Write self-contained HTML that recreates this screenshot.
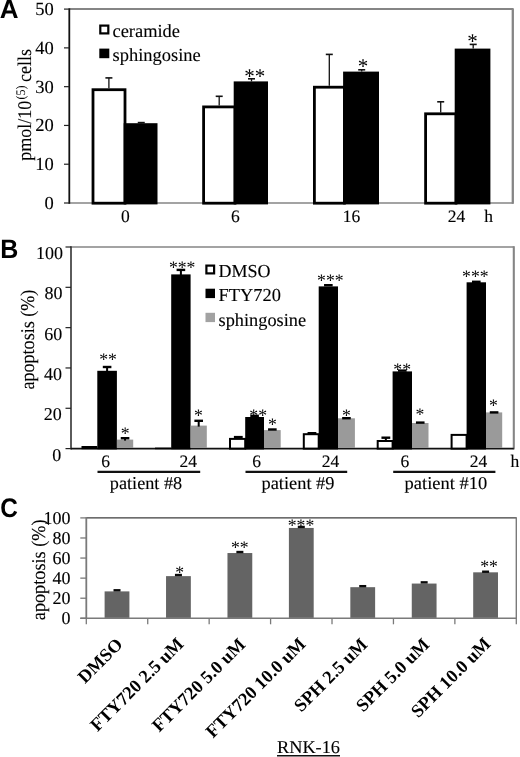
<!DOCTYPE html>
<html><head><meta charset="utf-8"><title>Figure</title>
<style>html,body{margin:0;padding:0;background:#fff;}body{width:520px;height:757px;overflow:hidden;font-family:"Liberation Serif",serif;}svg{display:block;will-change:transform;}text{text-rendering:geometricPrecision;}</style>
</head><body>
<svg width="520" height="757" viewBox="0 0 520 757">
<rect x="0" y="0" width="520" height="757" fill="#ffffff"/>
<line x1="69.3" y1="9.1" x2="513" y2="9.1" stroke="#858585" stroke-width="2.0"/>
<line x1="512.8" y1="8.299999999999999" x2="512.8" y2="203.8" stroke="#858585" stroke-width="2.3"/>
<line x1="69.3" y1="203.0" x2="513" y2="203.0" stroke="#858585" stroke-width="1.6"/>
<line x1="69.3" y1="8.299999999999999" x2="69.3" y2="203.8" stroke="#111" stroke-width="1.8"/>
<line x1="64.0" y1="203.0" x2="69.3" y2="203.0" stroke="#222" stroke-width="1.2"/>
<text x="53.7" y="208.9" font-size="18.5" text-anchor="end" font-weight="normal" font-family='"Liberation Serif", serif' fill="#000" stroke="#000" stroke-width="0.12">0</text>
<line x1="64.0" y1="164.22" x2="69.3" y2="164.22" stroke="#222" stroke-width="1.2"/>
<text x="53.7" y="170.12" font-size="18.5" text-anchor="end" font-weight="normal" font-family='"Liberation Serif", serif' fill="#000" stroke="#000" stroke-width="0.12">10</text>
<line x1="64.0" y1="125.44" x2="69.3" y2="125.44" stroke="#222" stroke-width="1.2"/>
<text x="53.7" y="131.34" font-size="18.5" text-anchor="end" font-weight="normal" font-family='"Liberation Serif", serif' fill="#000" stroke="#000" stroke-width="0.12">20</text>
<line x1="64.0" y1="86.66" x2="69.3" y2="86.66" stroke="#222" stroke-width="1.2"/>
<text x="53.7" y="92.56" font-size="18.5" text-anchor="end" font-weight="normal" font-family='"Liberation Serif", serif' fill="#000" stroke="#000" stroke-width="0.12">30</text>
<line x1="64.0" y1="47.879999999999995" x2="69.3" y2="47.879999999999995" stroke="#222" stroke-width="1.2"/>
<text x="53.7" y="53.78" font-size="18.5" text-anchor="end" font-weight="normal" font-family='"Liberation Serif", serif' fill="#000" stroke="#000" stroke-width="0.12">40</text>
<line x1="64.0" y1="9.099999999999994" x2="69.3" y2="9.099999999999994" stroke="#222" stroke-width="1.2"/>
<text x="53.7" y="15.0" font-size="18.5" text-anchor="end" font-weight="normal" font-family='"Liberation Serif", serif' fill="#000" stroke="#000" stroke-width="0.12">50</text>
<line x1="108.89999999999999" y1="77.9" x2="108.89999999999999" y2="88.3" stroke="#111" stroke-width="1.3"/>
<line x1="105.39999999999999" y1="77.9" x2="112.39999999999999" y2="77.9" stroke="#111" stroke-width="1.6"/>
<line x1="141.25" y1="122.6" x2="141.25" y2="123.2" stroke="#111" stroke-width="1.3"/>
<line x1="137.75" y1="122.6" x2="144.75" y2="122.6" stroke="#111" stroke-width="1.6"/>
<rect x="93.0" y="89.7" width="32.00000000000001" height="113.5" fill="#fff" stroke="#000" stroke-width="2.8"/>
<rect x="123.7" y="123.2" width="33.8" height="81.2" fill="#000"/>
<line x1="219.2" y1="96.3" x2="219.2" y2="105.5" stroke="#111" stroke-width="1.3"/>
<line x1="215.7" y1="96.3" x2="222.7" y2="96.3" stroke="#111" stroke-width="1.6"/>
<line x1="251.5" y1="78.8" x2="251.5" y2="81.4" stroke="#111" stroke-width="1.3"/>
<line x1="248.0" y1="78.8" x2="255.0" y2="78.8" stroke="#111" stroke-width="1.6"/>
<rect x="203.6" y="106.9" width="31.400000000000013" height="96.3" fill="#fff" stroke="#000" stroke-width="2.8"/>
<rect x="233.7" y="81.4" width="34.3" height="123.0" fill="#000"/>
<line x1="329.3" y1="54.4" x2="329.3" y2="85.8" stroke="#111" stroke-width="1.3"/>
<line x1="325.8" y1="54.4" x2="332.8" y2="54.4" stroke="#111" stroke-width="1.6"/>
<line x1="361.7" y1="69.8" x2="361.7" y2="71.6" stroke="#111" stroke-width="1.3"/>
<line x1="358.2" y1="69.8" x2="365.2" y2="69.8" stroke="#111" stroke-width="1.6"/>
<rect x="314.4" y="87.2" width="29.99999999999998" height="116.0" fill="#fff" stroke="#000" stroke-width="2.8"/>
<rect x="343.09999999999997" y="71.6" width="35.90000000000002" height="132.8" fill="#000"/>
<line x1="440.70000000000005" y1="101.8" x2="440.70000000000005" y2="112.4" stroke="#111" stroke-width="1.3"/>
<line x1="437.20000000000005" y1="101.8" x2="444.20000000000005" y2="101.8" stroke="#111" stroke-width="1.6"/>
<line x1="473.2" y1="44.4" x2="473.2" y2="48.6" stroke="#111" stroke-width="1.3"/>
<line x1="469.7" y1="44.4" x2="476.7" y2="44.4" stroke="#111" stroke-width="1.6"/>
<rect x="425.59999999999997" y="113.80000000000001" width="30.400000000000013" height="89.39999999999999" fill="#fff" stroke="#000" stroke-width="2.8"/>
<rect x="454.7" y="48.6" width="35.699999999999974" height="155.8" fill="#000"/>
<text x="254.8" y="82.95" font-size="21" text-anchor="middle" font-weight="normal" font-family='"Liberation Serif", serif' fill="#000" >**</text>
<text x="362.9" y="73.36" font-size="21" text-anchor="middle" font-weight="normal" font-family='"Liberation Serif", serif' fill="#000" >*</text>
<text x="472.6" y="48.36" font-size="21" text-anchor="middle" font-weight="normal" font-family='"Liberation Serif", serif' fill="#000" >*</text>
<text x="125.3" y="222.4" font-size="17.5" text-anchor="middle" font-weight="normal" font-family='"Liberation Serif", serif' fill="#000" stroke="#000" stroke-width="0.12">0</text>
<text x="235.4" y="222.4" font-size="17.5" text-anchor="middle" font-weight="normal" font-family='"Liberation Serif", serif' fill="#000" stroke="#000" stroke-width="0.12">6</text>
<text x="351.4" y="222.4" font-size="17.5" text-anchor="middle" font-weight="normal" font-family='"Liberation Serif", serif' fill="#000" stroke="#000" stroke-width="0.12">16</text>
<text x="456.4" y="222.4" font-size="17.5" text-anchor="middle" font-weight="normal" font-family='"Liberation Serif", serif' fill="#000" stroke="#000" stroke-width="0.12">24</text>
<text x="484.2" y="222.4" font-size="17.5" text-anchor="start" font-weight="normal" font-family='"Liberation Serif", serif' fill="#000" stroke="#000" stroke-width="0.12">h</text>
<rect x="100.3" y="25.6" width="8.0" height="7.8" fill="#fff" stroke="#000" stroke-width="2.2"/>
<rect x="99.3" y="48.6" width="10.0" height="9.6" fill="#000"/>
<text x="112.5" y="37.0" font-size="18.5" text-anchor="start" font-weight="normal" font-family='"Liberation Serif", serif' fill="#000" textLength="67.5" lengthAdjust="spacingAndGlyphs" stroke="#000" stroke-width="0.12">ceramide</text>
<text x="112.5" y="61.3" font-size="18.5" text-anchor="start" font-weight="normal" font-family='"Liberation Serif", serif' fill="#000" textLength="88.3" lengthAdjust="spacingAndGlyphs" stroke="#000" stroke-width="0.12">sphingosine</text>
<text transform="translate(-0.2,17.8) scale(1,1)" font-size="26" font-weight="bold" font-family='"Liberation Sans", sans-serif' fill="#000">A</text>
<g transform="translate(30.9,160.8) rotate(-90) scale(1,1.1)" font-family='"Liberation Serif", serif' font-size="17.6" fill="#000" stroke="#000" stroke-width="0.1"><text x="0" y="0" textLength="60" lengthAdjust="spacingAndGlyphs">pmol/10</text><text x="61.3" y="-5.2" font-size="12" stroke="none" textLength="14" lengthAdjust="spacingAndGlyphs">(5)</text><text x="78.8" y="0" textLength="33" lengthAdjust="spacingAndGlyphs">cells</text></g>
<line x1="71.0" y1="247.0" x2="513.8" y2="247.0" stroke="#858585" stroke-width="1.6"/>
<line x1="513.8" y1="246.2" x2="513.8" y2="449.40000000000003" stroke="#858585" stroke-width="2.1"/>
<line x1="71.0" y1="246.2" x2="71.0" y2="449.40000000000003" stroke="#333" stroke-width="1.6"/>
<line x1="71.0" y1="448.6" x2="513.8" y2="448.6" stroke="#111" stroke-width="1.7"/>
<line x1="65.5" y1="448.6" x2="71.0" y2="448.6" stroke="#222" stroke-width="1.2"/>
<text x="61.3" y="460.5" font-size="18" text-anchor="end" font-weight="normal" font-family='"Liberation Serif", serif' fill="#000" stroke="#000" stroke-width="0.12">0</text>
<line x1="65.5" y1="408.28000000000003" x2="71.0" y2="408.28000000000003" stroke="#222" stroke-width="1.2"/>
<text x="61.8" y="420.18" font-size="18" text-anchor="end" font-weight="normal" font-family='"Liberation Serif", serif' fill="#000" stroke="#000" stroke-width="0.12">20</text>
<line x1="65.5" y1="367.96000000000004" x2="71.0" y2="367.96000000000004" stroke="#222" stroke-width="1.2"/>
<text x="62.0" y="379.86" font-size="18" text-anchor="end" font-weight="normal" font-family='"Liberation Serif", serif' fill="#000" stroke="#000" stroke-width="0.12">40</text>
<line x1="65.5" y1="327.64" x2="71.0" y2="327.64" stroke="#222" stroke-width="1.2"/>
<text x="62.3" y="339.54" font-size="18" text-anchor="end" font-weight="normal" font-family='"Liberation Serif", serif' fill="#000" stroke="#000" stroke-width="0.12">60</text>
<line x1="65.5" y1="287.32" x2="71.0" y2="287.32" stroke="#222" stroke-width="1.2"/>
<text x="62.5" y="299.22" font-size="18" text-anchor="end" font-weight="normal" font-family='"Liberation Serif", serif' fill="#000" stroke="#000" stroke-width="0.12">80</text>
<line x1="65.5" y1="247.0" x2="71.0" y2="247.0" stroke="#222" stroke-width="1.2"/>
<text x="62.9" y="258.9" font-size="18" text-anchor="end" font-weight="normal" font-family='"Liberation Serif", serif' fill="#000" stroke="#000" stroke-width="0.12">100</text>
<rect x="81.5" y="446.0" width="15.799999999999997" height="3.200000000000023" fill="#000"/>
<rect x="97.3" y="370.8" width="19.60000000000001" height="78.60000000000001" fill="#000"/>
<rect x="116.9" y="439.6" width="16.299999999999983" height="8.4" fill="#9a9a9a"/>
<rect x="106.1" y="366.8" width="2.0" height="5.0" fill="#000"/>
<rect x="102.8" y="365.8" width="8.6" height="2.4" fill="#000"/>
<rect x="124.05" y="438.0" width="2.0" height="2.6" fill="#000"/>
<rect x="120.75" y="437.0" width="8.6" height="2.4" fill="#000"/>
<rect x="155.0" y="447.6" width="16.19999999999999" height="1.6" fill="#000"/>
<rect x="171.2" y="274.4" width="19.400000000000006" height="175.00000000000006" fill="#000"/>
<rect x="190.6" y="425.6" width="16.200000000000017" height="22.4" fill="#9a9a9a"/>
<rect x="179.9" y="269.7" width="2.0" height="5.7" fill="#000"/>
<rect x="176.6" y="268.7" width="8.6" height="2.4" fill="#000"/>
<rect x="197.7" y="420.6" width="2.0" height="6.0" fill="#000"/>
<rect x="194.4" y="419.6" width="8.6" height="2.4" fill="#000"/>
<rect x="230.0" y="438.9" width="15.199999999999989" height="9.700000000000045" fill="#fff" stroke="#000" stroke-width="2.0"/>
<rect x="245.2" y="417.0" width="18.80000000000001" height="32.40000000000002" fill="#000"/>
<rect x="264.0" y="430.1" width="16.69999999999999" height="17.9" fill="#9a9a9a"/>
<rect x="233.9" y="435.9" width="8.8" height="2.4" fill="#000"/>
<rect x="250.3" y="414.6" width="8.6" height="2.4" fill="#000"/>
<rect x="268.05" y="428.3" width="8.6" height="2.4" fill="#000"/>
<rect x="303.8" y="434.2" width="14.899999999999977" height="14.400000000000034" fill="#fff" stroke="#000" stroke-width="2.0"/>
<rect x="318.7" y="286.4" width="19.30000000000001" height="163.00000000000006" fill="#000"/>
<rect x="338.0" y="418.3" width="16.899999999999977" height="29.70000000000001" fill="#9a9a9a"/>
<rect x="307.55" y="432.0" width="8.8" height="2.4" fill="#000"/>
<rect x="324.05" y="284.0" width="8.6" height="2.4" fill="#000"/>
<rect x="342.15" y="417.0" width="8.6" height="2.4" fill="#000"/>
<rect x="377.7" y="441.0" width="14.900000000000034" height="7.600000000000023" fill="#fff" stroke="#000" stroke-width="2.0"/>
<rect x="392.6" y="371.4" width="19.399999999999977" height="78.00000000000004" fill="#000"/>
<rect x="412.0" y="423.0" width="16.5" height="25.00000000000002" fill="#9a9a9a"/>
<rect x="384.85" y="437.5" width="2.0" height="3.5" fill="#000"/>
<rect x="381.45" y="436.5" width="8.8" height="2.4" fill="#000"/>
<rect x="398.0" y="369.4" width="8.6" height="2.4" fill="#000"/>
<rect x="415.95" y="421.4" width="8.6" height="2.4" fill="#000"/>
<rect x="451.6" y="434.9" width="15.0" height="13.700000000000045" fill="#fff" stroke="#000" stroke-width="2.0"/>
<rect x="466.6" y="282.3" width="19.399999999999977" height="167.10000000000002" fill="#000"/>
<rect x="486.0" y="412.4" width="16.19999999999999" height="35.600000000000044" fill="#9a9a9a"/>
<rect x="472.0" y="280.6" width="8.6" height="2.4" fill="#000"/>
<rect x="489.8" y="411.2" width="8.6" height="2.4" fill="#000"/>
<text x="108.0" y="365.39" font-size="17.7" text-anchor="middle" font-weight="normal" font-family='"Liberation Serif", serif' fill="#000" >**</text>
<text x="125.1" y="438.59" font-size="17.7" text-anchor="middle" font-weight="normal" font-family='"Liberation Serif", serif' fill="#000" >*</text>
<text x="182.2" y="272.89" font-size="17.7" text-anchor="middle" font-weight="normal" font-family='"Liberation Serif", serif' fill="#000" >***</text>
<text x="198.4" y="420.79" font-size="17.7" text-anchor="middle" font-weight="normal" font-family='"Liberation Serif", serif' fill="#000" >*</text>
<text x="258.2" y="420.59" font-size="17.7" text-anchor="middle" font-weight="normal" font-family='"Liberation Serif", serif' fill="#000" >**</text>
<text x="272.4" y="429.79" font-size="17.7" text-anchor="middle" font-weight="normal" font-family='"Liberation Serif", serif' fill="#000" >*</text>
<text x="330.3" y="286.09" font-size="17.7" text-anchor="middle" font-weight="normal" font-family='"Liberation Serif", serif' fill="#000" >***</text>
<text x="346.3" y="420.79" font-size="17.7" text-anchor="middle" font-weight="normal" font-family='"Liberation Serif", serif' fill="#000" >*</text>
<text x="402.2" y="374.89" font-size="17.7" text-anchor="middle" font-weight="normal" font-family='"Liberation Serif", serif' fill="#000" >**</text>
<text x="419.9" y="420.49" font-size="17.7" text-anchor="middle" font-weight="normal" font-family='"Liberation Serif", serif' fill="#000" >*</text>
<text x="475.3" y="281.89" font-size="17.7" text-anchor="middle" font-weight="normal" font-family='"Liberation Serif", serif' fill="#000" >***</text>
<text x="493.5" y="411.49" font-size="17.7" text-anchor="middle" font-weight="normal" font-family='"Liberation Serif", serif' fill="#000" >*</text>
<text x="105.5" y="467.4" font-size="17.5" text-anchor="middle" font-weight="normal" font-family='"Liberation Serif", serif' fill="#000" stroke="#000" stroke-width="0.12">6</text>
<text x="188.2" y="467.4" font-size="17.5" text-anchor="middle" font-weight="normal" font-family='"Liberation Serif", serif' fill="#000" stroke="#000" stroke-width="0.12">24</text>
<text x="256.7" y="467.4" font-size="17.5" text-anchor="middle" font-weight="normal" font-family='"Liberation Serif", serif' fill="#000" stroke="#000" stroke-width="0.12">6</text>
<text x="330.5" y="467.4" font-size="17.5" text-anchor="middle" font-weight="normal" font-family='"Liberation Serif", serif' fill="#000" stroke="#000" stroke-width="0.12">24</text>
<text x="404.8" y="467.4" font-size="17.5" text-anchor="middle" font-weight="normal" font-family='"Liberation Serif", serif' fill="#000" stroke="#000" stroke-width="0.12">6</text>
<text x="478.4" y="467.4" font-size="17.5" text-anchor="middle" font-weight="normal" font-family='"Liberation Serif", serif' fill="#000" stroke="#000" stroke-width="0.12">24</text>
<text x="510.6" y="467.4" font-size="17.5" text-anchor="start" font-weight="normal" font-family='"Liberation Serif", serif' fill="#000" stroke="#000" stroke-width="0.12">h</text>
<line x1="97.5" y1="471.9" x2="200.2" y2="471.9" stroke="#111" stroke-width="2.3"/>
<line x1="245.5" y1="471.9" x2="347.2" y2="471.9" stroke="#111" stroke-width="2.3"/>
<line x1="393.2" y1="471.9" x2="495.4" y2="471.9" stroke="#111" stroke-width="2.3"/>
<text x="109.8" y="489.1" font-size="18" text-anchor="start" font-weight="normal" font-family='"Liberation Serif", serif' fill="#000" textLength="72.4" lengthAdjust="spacingAndGlyphs" stroke="#000" stroke-width="0.12">patient #8</text>
<text x="261.5" y="489.1" font-size="18" text-anchor="start" font-weight="normal" font-family='"Liberation Serif", serif' fill="#000" textLength="73" lengthAdjust="spacingAndGlyphs" stroke="#000" stroke-width="0.12">patient #9</text>
<text x="404.6" y="489.1" font-size="18" text-anchor="start" font-weight="normal" font-family='"Liberation Serif", serif' fill="#000" textLength="82.6" lengthAdjust="spacingAndGlyphs" stroke="#000" stroke-width="0.12">patient #10</text>
<rect x="206.4" y="265.6" width="7.7" height="7.8" fill="#fff" stroke="#000" stroke-width="2.2"/>
<rect x="205.5" y="288.7" width="9.5" height="9.4" fill="#000"/>
<rect x="205.5" y="312.8" width="9.5" height="9.3" fill="#a2a2a2"/>
<text x="218.6" y="277.2" font-size="18.3" text-anchor="start" font-weight="normal" font-family='"Liberation Serif", serif' fill="#000" textLength="52" lengthAdjust="spacingAndGlyphs" stroke="#000" stroke-width="0.12">DMSO</text>
<text x="218.6" y="301.0" font-size="18.3" text-anchor="start" font-weight="normal" font-family='"Liberation Serif", serif' fill="#000" textLength="62.4" lengthAdjust="spacingAndGlyphs" stroke="#000" stroke-width="0.12">FTY720</text>
<text x="218.6" y="325.8" font-size="18.3" text-anchor="start" font-weight="normal" font-family='"Liberation Serif", serif' fill="#000" textLength="87.5" lengthAdjust="spacingAndGlyphs" stroke="#000" stroke-width="0.12">sphingosine</text>
<text transform="translate(0.2,258.1) scale(0.94,1)" font-size="26.6" font-weight="bold" font-family='"Liberation Sans", sans-serif' fill="#000">B</text>
<g transform="translate(33.8,389.6) rotate(-90) scale(1,1.09)" font-family='"Liberation Serif", serif' font-size="18" fill="#000" stroke="#000" stroke-width="0.1"><text x="0" y="0" textLength="100" lengthAdjust="spacingAndGlyphs">apoptosis (%)</text></g>
<line x1="86.3" y1="517.9" x2="516.3" y2="517.9" stroke="#3c3c3c" stroke-width="1.4"/>
<line x1="516.3" y1="517.1999999999999" x2="516.3" y2="619.0" stroke="#7a7a7a" stroke-width="1.4"/>
<line x1="86.3" y1="517.1999999999999" x2="86.3" y2="619.0" stroke="#7a7a7a" stroke-width="1.8"/>
<line x1="80.3" y1="618.3" x2="516.3" y2="618.3" stroke="#7a7a7a" stroke-width="1.4"/>
<line x1="80.3" y1="618.3" x2="86.3" y2="618.3" stroke="#7a7a7a" stroke-width="1.3"/>
<text x="70.4" y="624.1" font-size="18" text-anchor="end" font-weight="normal" font-family='"Liberation Serif", serif' fill="#000" stroke="#000" stroke-width="0.12">0</text>
<line x1="80.3" y1="598.2199999999999" x2="86.3" y2="598.2199999999999" stroke="#7a7a7a" stroke-width="1.3"/>
<text x="70.4" y="604.02" font-size="18" text-anchor="end" font-weight="normal" font-family='"Liberation Serif", serif' fill="#000" stroke="#000" stroke-width="0.12">20</text>
<line x1="80.3" y1="578.14" x2="86.3" y2="578.14" stroke="#7a7a7a" stroke-width="1.3"/>
<text x="70.4" y="583.94" font-size="18" text-anchor="end" font-weight="normal" font-family='"Liberation Serif", serif' fill="#000" stroke="#000" stroke-width="0.12">40</text>
<line x1="80.3" y1="558.06" x2="86.3" y2="558.06" stroke="#7a7a7a" stroke-width="1.3"/>
<text x="70.4" y="563.86" font-size="18" text-anchor="end" font-weight="normal" font-family='"Liberation Serif", serif' fill="#000" stroke="#000" stroke-width="0.12">60</text>
<line x1="80.3" y1="537.98" x2="86.3" y2="537.98" stroke="#7a7a7a" stroke-width="1.3"/>
<text x="70.4" y="543.78" font-size="18" text-anchor="end" font-weight="normal" font-family='"Liberation Serif", serif' fill="#000" stroke="#000" stroke-width="0.12">80</text>
<line x1="80.3" y1="517.9" x2="86.3" y2="517.9" stroke="#7a7a7a" stroke-width="1.3"/>
<text x="70.4" y="523.7" font-size="18" text-anchor="end" font-weight="normal" font-family='"Liberation Serif", serif' fill="#000" stroke="#000" stroke-width="0.12">100</text>
<line x1="86.3" y1="618.3" x2="86.3" y2="624.3" stroke="#7a7a7a" stroke-width="1.3"/>
<line x1="147.72857142857143" y1="618.3" x2="147.72857142857143" y2="624.3" stroke="#7a7a7a" stroke-width="1.3"/>
<line x1="209.15714285714284" y1="618.3" x2="209.15714285714284" y2="624.3" stroke="#7a7a7a" stroke-width="1.3"/>
<line x1="270.5857142857143" y1="618.3" x2="270.5857142857143" y2="624.3" stroke="#7a7a7a" stroke-width="1.3"/>
<line x1="332.0142857142857" y1="618.3" x2="332.0142857142857" y2="624.3" stroke="#7a7a7a" stroke-width="1.3"/>
<line x1="393.4428571428571" y1="618.3" x2="393.4428571428571" y2="624.3" stroke="#7a7a7a" stroke-width="1.3"/>
<line x1="454.87142857142857" y1="618.3" x2="454.87142857142857" y2="624.3" stroke="#7a7a7a" stroke-width="1.3"/>
<line x1="516.3" y1="618.3" x2="516.3" y2="624.3" stroke="#7a7a7a" stroke-width="1.3"/>
<rect x="104.61" y="591.39" width="24.8" height="26.41" fill="#646464"/>
<rect x="113.51" y="589.09" width="7.0" height="2.4" fill="#0a0a0a"/>
<rect x="166.04" y="576.13" width="24.8" height="41.67" fill="#646464"/>
<rect x="174.94" y="573.83" width="7.0" height="2.4" fill="#0a0a0a"/>
<rect x="227.47" y="553.04" width="24.8" height="64.76" fill="#646464"/>
<rect x="236.37" y="550.84" width="7.0" height="2.4" fill="#0a0a0a"/>
<rect x="288.9" y="527.94" width="24.8" height="89.86" fill="#646464"/>
<rect x="297.8" y="525.74" width="7.0" height="2.4" fill="#0a0a0a"/>
<rect x="350.33" y="587.18" width="24.8" height="30.62" fill="#646464"/>
<rect x="359.23" y="584.98" width="7.0" height="2.4" fill="#0a0a0a"/>
<rect x="411.76" y="583.56" width="24.8" height="34.24" fill="#646464"/>
<rect x="420.66" y="581.16" width="7.0" height="2.4" fill="#0a0a0a"/>
<rect x="473.19" y="572.32" width="24.8" height="45.48" fill="#646464"/>
<rect x="482.09" y="570.52" width="7.0" height="2.4" fill="#0a0a0a"/>
<text x="179.6" y="577.59" font-size="17.7" text-anchor="middle" font-weight="normal" font-family='"Liberation Serif", serif' fill="#000" >*</text>
<text x="239.8" y="553.19" font-size="17.7" text-anchor="middle" font-weight="normal" font-family='"Liberation Serif", serif' fill="#000" >**</text>
<text x="301.0" y="530.89" font-size="17.7" text-anchor="middle" font-weight="normal" font-family='"Liberation Serif", serif' fill="#000" >***</text>
<text x="489.1" y="572.29" font-size="17.7" text-anchor="middle" font-weight="normal" font-family='"Liberation Serif", serif' fill="#000" >**</text>
<text transform="translate(123.8,645.5) rotate(-45)" text-anchor="end" font-size="18.3" font-weight="bold" font-family='"Liberation Serif", serif' fill="#000">DMSO</text>
<text transform="translate(184.8,645.0) rotate(-45)" text-anchor="end" font-size="18.3" font-weight="bold" font-family='"Liberation Serif", serif' fill="#000">FTY720 2.5 uM</text>
<text transform="translate(246.5,645.6) rotate(-45)" text-anchor="end" font-size="18.3" font-weight="bold" font-family='"Liberation Serif", serif' fill="#000">FTY720 5.0 uM</text>
<text transform="translate(306.8,645.0) rotate(-45)" text-anchor="end" font-size="18.3" font-weight="bold" font-family='"Liberation Serif", serif' fill="#000">FTY720 10.0 uM</text>
<text transform="translate(368.5,645.6) rotate(-45)" text-anchor="end" font-size="18.3" font-weight="bold" font-family='"Liberation Serif", serif' fill="#000">SPH 2.5 uM</text>
<text transform="translate(430.5,645.6) rotate(-45)" text-anchor="end" font-size="18.3" font-weight="bold" font-family='"Liberation Serif", serif' fill="#000">SPH 5.0 uM</text>
<text transform="translate(491.8,644.8) rotate(-45)" text-anchor="end" font-size="18.3" font-weight="bold" font-family='"Liberation Serif", serif' fill="#000">SPH 10.0 uM</text>
<text x="277.0" y="752.6" font-size="18" text-anchor="start" font-weight="normal" font-family='"Liberation Serif", serif' fill="#000" textLength="63" lengthAdjust="spacingAndGlyphs" stroke="#000" stroke-width="0.12">RNK-16</text>
<line x1="277.0" y1="755.8" x2="340.0" y2="755.8" stroke="#111" stroke-width="1.5"/>
<text transform="translate(0.15,517.0) scale(0.91,1)" font-size="26.8" font-weight="bold" font-family='"Liberation Sans", sans-serif' fill="#000">C</text>
<g transform="translate(45.1,620.2) rotate(-90) scale(1,1.09)" font-family='"Liberation Serif", serif' font-size="18" fill="#000" stroke="#000" stroke-width="0.1"><text x="0" y="0" textLength="100.7" lengthAdjust="spacingAndGlyphs">apoptosis (%)</text></g>
</svg>
</body></html>
